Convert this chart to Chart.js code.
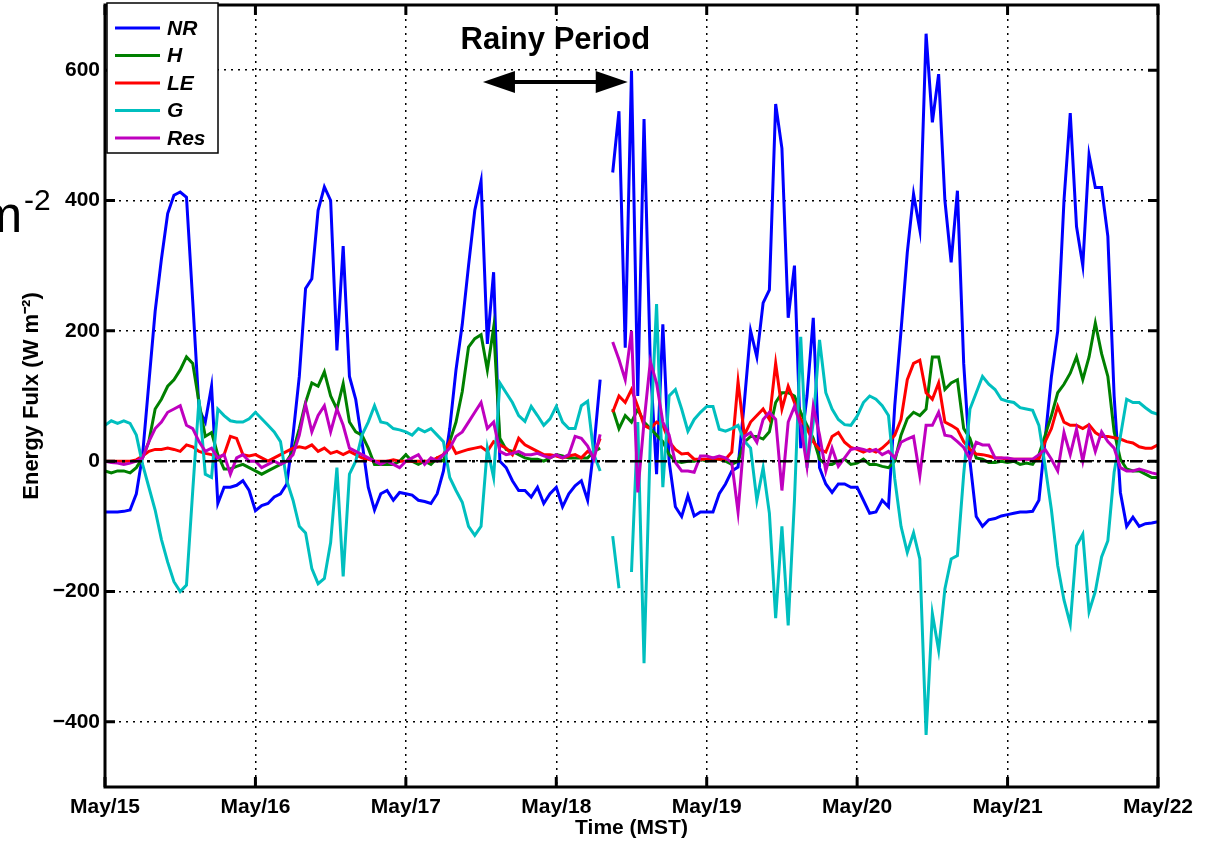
<!DOCTYPE html>
<html>
<head>
<meta charset="utf-8">
<script src="https://cdn.jsdelivr.net/npm/chart.js@4.4.1/dist/chart.umd.min.js"></script>
<style>
  html, body { margin: 0; padding: 0; background: #fff; }
  #wrap { width: 1206px; height: 841px; }
</style>
</head>
<body>
<div id="wrap"><canvas id="fluxChart" width="1206" height="841"></canvas></div>
<script>
// hourly energy fluxes, May/15 00:00 .. May/22 00:00 (MST), W m-2
const dayTicks = [0, 24, 48, 72, 96, 120, 144, 168];
const dayLabels = ['May/15', 'May/16', 'May/17', 'May/18', 'May/19', 'May/20', 'May/21', 'May/22'];
const yTicks = [-400, -200, 0, 200, 400, 600];
const hours = Array.from({length: 169}, (_, i) => i);

const netRadiation = [
  -78, -78, -78, -77, -75, -50, 10, 120, 230, 310, 380, 408, 413, 405, 245, 80, 60, 115, -65, -40, -40, -37, -30, -45,
  -76, -68, -65, -55, -50, -35, 40, 130, 265, 280, 385, 421, 400, 170, 330, 130, 95, 30, -40, -75, -50, -45, -60, -48,
  -50, -52, -60, -62, -65, -50, -15, 50, 140, 210, 300, 385, 430, 180, 290, 0, -10, -30, -45, -45, -55, -40, -65, -50,
  -40, -70, -50, -38, -30, -60, 20, 125, null, 443, 537, 174, 599, 100, 525, 150, -20, 210, 0, -70, -85, -53, -84, -78,
  -78, -78, -50, -35, -15, -9, 90, 200, 160, 243, 263, 548, 480, 220, 300, 20, 100, 220, -10, -35, -48, -35, -35, -40,
  -40, -60, -80, -78, -60, -70, 85, 200, 320, 410, 355, 656, 520, 594, 400, 305, 415, 150, 0, -85, -100, -90, -88, -84,
  -82, -80, -78, -78, -77, -60, 34, 130, 200, 400, 534, 360, 300, 470, 420, 420, 345, 100, -48, -100, -86, -100, -96, -95,
  -93
];
const sensibleHeat = [
  -15, -18, -15, -15, -18, -10, 5, 30, 80, 95, 115, 125, 140, 160, 150, 90, 38, 44, 10, -12, -12, -8, -5, -10,
  -15, -20, -15, -10, -5, 0, 15, 50, 90, 120, 115, 137, 100, 80, 119, 60, 45, 40, 20, -5, -5, -5, -5, 0,
  10, 0, -5, 0, -5, 5, 0, 30, 60, 107, 175, 188, 194, 140, 205, 35, 18, 15, 10, 5, 3, 3, 0, 5,
  10, 8, 5, 5, 5, 5, 15, 20, null, 80, 50, 70, 60, 80, 60, 50, 40, 30, 10, 0, -2, 0, 0, 3,
  0, 3, 3, 0, -5, 0, 29, 38, 38, 34, 45, 90, 105, 105, 100, 75, 55, 35, 3, -5, -5, 0, 3, -5,
  -3, 3, -5, -5, -8, -10, 0, 40, 65, 75, 70, 80, 160, 160, 110, 120, 125, 50, 35, 5, 3, -2, -2, 0,
  -2, 0, -5, -3, -5, 10, 40, 70, 105, 118, 135, 160, 125, 160, 212, 165, 130, 45, 3, -12, -15, -15, -20, -25,
  -25
];
const latentHeat = [
  0, 0, 0, 0, 0, 2, 8, 15, 18, 18, 20, 18, 15, 25, 22, 15, 12, 10, 5, 10, 38, 35, 10, 8,
  10, 5, 0, 5, 10, 15, 20, 22, 20, 25, 15, 20, 12, 15, 10, 15, 10, 5, 3, 0, 0, 0, 2, 0,
  0, 0, 0, 0, 0, 5, 10, 30, 12, 15, 18, 20, 22, 15, 30, 25, 20, 10, 35, 25, 20, 15, 10, 10,
  8, 5, 8, 10, 5, 15, 10, 35, null, 75, 100, 90, 110, 84, 55, 50, 60, 55, 30, 18, 11, 12, 3, 3,
  3, 5, 3, 3, 14, 122, 40, 60, 70, 80, 64, 150, 80, 115, 90, 64, 50, 30, 18, 14, 38, 44, 29, 21,
  18, 14, 18, 14, 20, 29, 40, 64, 125, 150, 155, 105, 95, 120, 60, 55, 49, 30, 18, 11, 10, 8, 5, 5,
  3, 3, 3, 3, 3, 3, 30, 50, 84, 60, 55, 55, 50, 56, 44, 38, 38, 36, 34, 30, 28, 22, 20, 20,
  25
];
const groundHeat = [
  55, 62, 58, 62, 58, 40, -5, -40, -75, -120, -155, -185, -200, -190, -45, 95, -20, -25, 80, 70, 62, 60, 60, 65,
  75, 65, 55, 45, 30, -30, -60, -100, -110, -165, -188, -180, -125, -10, -177, -20, 0, 40, 60, 85, 60, 58, 50, 48,
  45, 40, 50, 45, 50, 40, 30, -25, -45, -63, -100, -114, -100, 20, -25, 120, 105, 90, 70, 61, 84, 70, 55, 65,
  84, 60, 50, 50, 85, 92, 10, -15, null, -115, -195, null, -170, 60, -310, 30, 241, -40, 100, 110, 80, 46, 64, 75,
  84, 84, 49, 46, 50, 55, 31, 20, -60, -10, -80, -241, -100, -252, -60, 191, -10, 60, 186, 105, 80, 64, 56, 55,
  69, 90, 100, 95, 85, 70, -27, -100, -140, -110, -150, -420, -234, -290, -196, -150, -145, -20, 80, 105, 130, 118, 110, 95,
  92, 90, 82, 80, 78, 55, -8, -75, -160, -213, -250, -130, -112, -231, -200, -147, -122, -17, 38, 95, 90, 90, 82, 75,
  72
];
const residual = [
  0, -2, -3, -5, -3, 0, 5, 30, 50, 60, 75, 80, 85, 55, 50, 30, 15, 20, 5, 10, -20, 5, 10, 0,
  0, -10, -5, 0, -5, 0, 10, 40, 87, 45, 70, 85, 45, 80, 55, 20, 15, 10, 5, 0, -5, 0, -5, -10,
  0, 5, 10, -5, 5, 0, 10, 20, 38, 45, 60, 75, 90, 50, 60, 15, 10, 12, 15, 10, 10, 12, 8, 5,
  10, 5, 10, 38, 35, 23, 3, 41, null, 183, 156, 125, 200, -48, 60, 153, 120, 60, 40, -2, -15, -15, -17, 8,
  8, 5, 8, 5, -2, -78, 38, 44, 29, 64, 75, 64, -45, 60, 84, 55, -8, 84, 40, -15, 20, -8, 5, 18,
  20, 18, 15, 18, 10, 15, 5, 29, 34, 38, -22, 55, 55, 75, 40, 38, 30, 21, 3, 29, 25, 25, 5, 5,
  5, 3, 3, 3, 3, 10, 18, 3, -15, 44, 10, 49, 0, 50, 15, 45, 30, 20, -10, -15, -15, -12, -15, -18,
  -20
];

// "Rainy Period" annotation, in axis units
const rainyStart = 60.3, rainyEnd = 83.4, arrowLevel = 582, titleLevel = 645;

const FONT = '"Liberation Sans", Arial, Helvetica, sans-serif';
Chart.defaults.font.family = FONT;
Chart.defaults.color = '#000';

function series(label, data, color, order) {
  return {label, data, borderColor: color, backgroundColor: color, borderWidth: 3,
          pointRadius: 0, tension: 0, fill: false, order};
}

const decorations = {
  id: 'decorations',
  afterDatasetsDraw(chart) {
    const {ctx, chartArea: a, scales: {y}} = chart;
    const y0 = y.getPixelForValue(0);
    ctx.save();
    ctx.strokeStyle = '#000';
    ctx.lineWidth = 2.5;
    ctx.setLineDash([12, 5, 3, 5]);
    ctx.beginPath();
    ctx.moveTo(a.left, y0);
    ctx.lineTo(a.right, y0);
    ctx.stroke();
    ctx.restore();
  },
  afterDraw(chart) {
    const {ctx, chartArea: a, scales: {x, y}} = chart;
    ctx.save();
    // inward ticks and the box
    ctx.strokeStyle = '#000';
    ctx.lineWidth = 3;
    ctx.beginPath();
    yTicks.forEach(v => {
      const p = y.getPixelForValue(v);
      ctx.moveTo(a.left, p); ctx.lineTo(a.left + 10, p);
      ctx.moveTo(a.right, p); ctx.lineTo(a.right - 10, p);
    });
    dayTicks.forEach(v => {
      const p = x.getPixelForValue(v);
      ctx.moveTo(p, a.bottom); ctx.lineTo(p, a.bottom - 10);
      ctx.moveTo(p, a.top); ctx.lineTo(p, a.top + 10);
    });
    ctx.stroke();
    ctx.strokeRect(a.left, a.top, a.right - a.left, a.bottom - a.top);

    // legend box
    const lx = a.left + 2, ly = a.top - 2;
    ctx.fillStyle = '#fff';
    ctx.fillRect(lx, ly, 111, 150);
    ctx.lineWidth = 1.5;
    ctx.strokeRect(lx, ly, 111, 150);
    ctx.font = 'italic bold 21px ' + FONT;
    ctx.textBaseline = 'middle';
    ctx.textAlign = 'left';
    chart.data.datasets.forEach((ds, i) => {
      const ry = ly + 25 + i * 27.5;
      ctx.strokeStyle = ds.borderColor;
      ctx.lineWidth = 3;
      ctx.beginPath();
      ctx.moveTo(lx + 8, ry); ctx.lineTo(lx + 53, ry);
      ctx.stroke();
      ctx.fillStyle = '#000';
      ctx.fillText(ds.label, lx + 60, ry + 1);
    });

    // rainy period arrow
    const xs = x.getPixelForValue(rainyStart), xe = x.getPixelForValue(rainyEnd);
    const ya = y.getPixelForValue(arrowLevel);
    ctx.fillStyle = '#000';
    ctx.strokeStyle = '#000';
    ctx.lineWidth = 4;
    ctx.beginPath();
    ctx.moveTo(xs + 20, ya); ctx.lineTo(xe - 20, ya);
    ctx.stroke();
    ctx.beginPath();
    ctx.moveTo(xs, ya); ctx.lineTo(xs + 32, ya - 11); ctx.lineTo(xs + 32, ya + 11); ctx.closePath();
    ctx.moveTo(xe, ya); ctx.lineTo(xe - 32, ya - 11); ctx.lineTo(xe - 32, ya + 11); ctx.closePath();
    ctx.fill();
    ctx.font = 'bold 31px ' + FONT;
    ctx.textAlign = 'center';
    ctx.fillText('Rainy Period', (xs + xe) / 2, y.getPixelForValue(titleLevel));

    // clipped unit label at the left edge (only its tail is inside the page)
    ctx.font = '52px ' + FONT;
    ctx.textAlign = 'left';
    ctx.textBaseline = 'alphabetic';
    ctx.fillText('m', -21, 232);
    ctx.font = '30px ' + FONT;
    ctx.fillText('-2', 24, 210);
    ctx.restore();
  }
};

new Chart(document.getElementById('fluxChart').getContext('2d'), {
  type: 'line',
  data: {
    labels: hours,
    datasets: [
      series('NR', netRadiation, '#0000ff', 4),
      series('H', sensibleHeat, '#008000', 3),
      series('LE', latentHeat, '#ff0000', 2),
      series('G', groundHeat, '#00bfbf', 1),
      series('Res', residual, '#bf00bf', 0),
    ],
  },
  options: {
    responsive: false,
    animation: false,
    spanGaps: false,
    layout: {padding: {left: 0, right: 48, top: 5, bottom: 0}},
    plugins: {legend: {display: false}, tooltip: {enabled: false}},
    scales: {
      x: {
        type: 'linear',
        min: 0,
        max: 168,
        afterFit: s => { s.height = 54; s.paddingLeft = 0; s.paddingRight = 0; },
        afterBuildTicks: s => { s.ticks = dayTicks.map(v => ({value: v})); },
        ticks: {
          autoSkip: false,
          maxRotation: 0,
          padding: 8,
          font: {size: 21, weight: 'bold'},
          callback: (v) => dayLabels[dayTicks.indexOf(v)],
        },
        grid: {color: '#000', lineWidth: 1.5, drawTicks: false},
        border: {display: false, dash: [2, 5]},
        title: {display: true, text: 'Time (MST)', font: {size: 21, weight: 'bold'}, padding: {top: 0, bottom: 0}},
      },
      y: {
        min: -500,
        max: 700,
        afterFit: s => { s.width = 105; s.paddingTop = 0; s.paddingBottom = 0; },
        afterBuildTicks: s => { s.ticks = yTicks.map(v => ({value: v})); },
        ticks: {
          padding: 5,
          font: {size: 21, weight: 'bold'},
          callback: v => String(v).replace('-', '\u2212'),
        },
        grid: {color: '#000', lineWidth: 1.5, drawTicks: false},
        border: {display: false, dash: [2, 5]},
        title: {display: true, text: 'Energy Fulx (W m\u207B\u00B2)', font: {size: 22, weight: 'bold'}, padding: {top: 19, bottom: 0}},
      },
    },
  },
  plugins: [decorations],
});
</script>
</body>
</html>
